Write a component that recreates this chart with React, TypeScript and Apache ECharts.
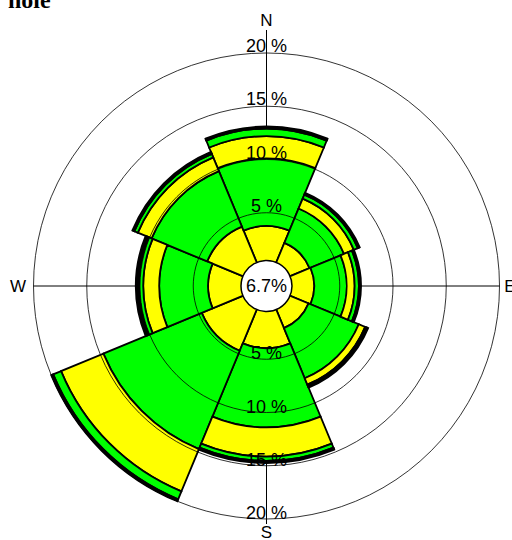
import React, { useEffect, useRef } from "react";
import * as echarts from "echarts";

// ---- data ----
const DIRECTIONS = ["N", "NE", "E", "SE", "S", "SW", "W", "NW"];
const BIN_1 = [3.75, 2.5, 2.6, 2.4, 3.95, 4.7, 3.6, 4.15];
const BIN_2 = [6.35, 3.5, 3.05, 5.1, 7.45, 10.0, 4.6, 5.65];
const BIN_3 = [2.1, 1.0, 0.75, 0.65, 2.75, 4.3, 1.5, 1.4];
const BIN_4 = [0.7, 0.4, 0.4, 0.15, 0.4, 0.8, 0.4, 0.35];
const BIN_5 = [0.1, 0.1, 0.1, 0.05, 0.1, 0.15, 0.15, 0.1];
const BIN_6 = [0.1, 0.1, 0.1, 0.1, 0.1, 0.2, 0.15, 0.1];
const BINS = [BIN_1, BIN_2, BIN_3, BIN_4, BIN_5, BIN_6];
const CALM = 6.7;
const RING_TICKS = [5, 10, 15, 20];
const RING_LABELS = ["5 %", "10 %", "15 %", "20 %"];
const COMPASS = ["N", "E", "S", "W"];
const TITLE = "hole";

// ---- layout / style ----
const CX = 266.5;
const CY = 286;
const R0 = 20;
const R1 = 233;
const RMAX = 20;
const COLORS = ["#ffff00", "#00ff00"];
const SANS = "'Liberation Sans', Arial, sans-serif";

const rad = (v: number) => R0 + (v / RMAX) * (R1 - R0);

export default function App() {
  const ref = useRef<HTMLDivElement>(null);
  useEffect(() => {
    document.body.style.margin = "0";
    const chart = echarts.init(ref.current!, undefined, { renderer: "svg" });

    const graphics: any[] = [];
    // compass axis lines (under bars)
    graphics.push(
      { type: "line", z: 0, shape: { x1: CX, y1: CY - 256, x2: CX, y2: CY }, style: { stroke: "#000", lineWidth: 1 } },
      { type: "line", z: 0, shape: { x1: CX, y1: CY, x2: CX, y2: CY + 238 }, style: { stroke: "#000", lineWidth: 1 } },
      { type: "line", z: 0, shape: { x1: CX - R1, y1: CY, x2: CX, y2: CY }, style: { stroke: "#000", lineWidth: 1 } },
      { type: "line", z: 0, shape: { x1: CX, y1: CY, x2: CX + R1, y2: CY }, style: { stroke: "#000", lineWidth: 1 } }
    );
    // ring labels
    RING_TICKS.forEach((t, i) => {
      const r = rad(t);
      graphics.push({
        type: "text", z: 100, x: CX, y: CY - r - 7,
        style: { text: RING_LABELS[i], fontSize: 18, fontFamily: SANS, fill: "#000", align: "center", verticalAlign: "middle" },
      });
      graphics.push({
        type: "text", z: 100, x: CX, y: CY + r - 6,
        style: { text: RING_LABELS[i], fontSize: 18, fontFamily: SANS, fill: "#000", align: "center", verticalAlign: "middle" },
      });
    });
    // compass letters
    const compassPos: Record<string, [number, number]> = {
      N: [CX, 20], E: [510, CY], S: [CX, 532], W: [18, CY],
    };
    COMPASS.forEach((c) => {
      graphics.push({
        type: "text", z: 100, x: compassPos[c][0], y: compassPos[c][1],
        style: { text: c, fontSize: 17, fontFamily: SANS, fill: "#000", align: "center", verticalAlign: "middle" },
      });
    });
    // hole
    graphics.push({
      type: "circle", z: 100, shape: { cx: CX, cy: CY, r: 25.5 },
      style: { fill: "#fff", stroke: "#000", lineWidth: 1.5 },
    });
    graphics.push({
      type: "text", z: 101, x: CX, y: CY,
      style: { text: `${CALM}%`, fontSize: 18, fontFamily: SANS, fill: "#000", align: "center", verticalAlign: "middle" },
    });
    // title
    graphics.push({
      type: "text", z: 101, x: 8, y: 12,
      style: { text: TITLE, fontSize: 24, fontWeight: "bold", fontFamily: "'Liberation Serif', serif", fill: "#000", align: "left", verticalAlign: "bottom" },
    });

    chart.setOption({
      animation: false,
      polar: { center: [CX, CY], radius: [R0, R1] },
      angleAxis: {
        type: "category",
        data: DIRECTIONS,
        startAngle: 90 + 22.5,
        clockwise: true,
        axisLine: { show: false },
        axisTick: { show: false },
        axisLabel: { show: false },
        splitLine: { show: false },
      },
      radiusAxis: {
        type: "value",
        min: 0,
        max: RMAX,
        interval: 5,
        z: 10,
        axisLine: { show: false },
        axisTick: { show: false },
        axisLabel: { show: false },
        splitLine: { show: true, lineStyle: { color: "#000", width: 0.8 } },
      },
      series: BINS.map((b, i) => ({
        type: "bar",
        coordinateSystem: "polar",
        stack: "wind",
        data: b,
        barCategoryGap: "0%",
        z: 2,
        itemStyle: { color: COLORS[i % 2], borderColor: "#000", borderWidth: 1.8 },
      })),
      graphic: graphics,
    });
    return () => chart.dispose();
  }, []);
  return <div ref={ref} style={{ width: 512, height: 540 }} />;
}
